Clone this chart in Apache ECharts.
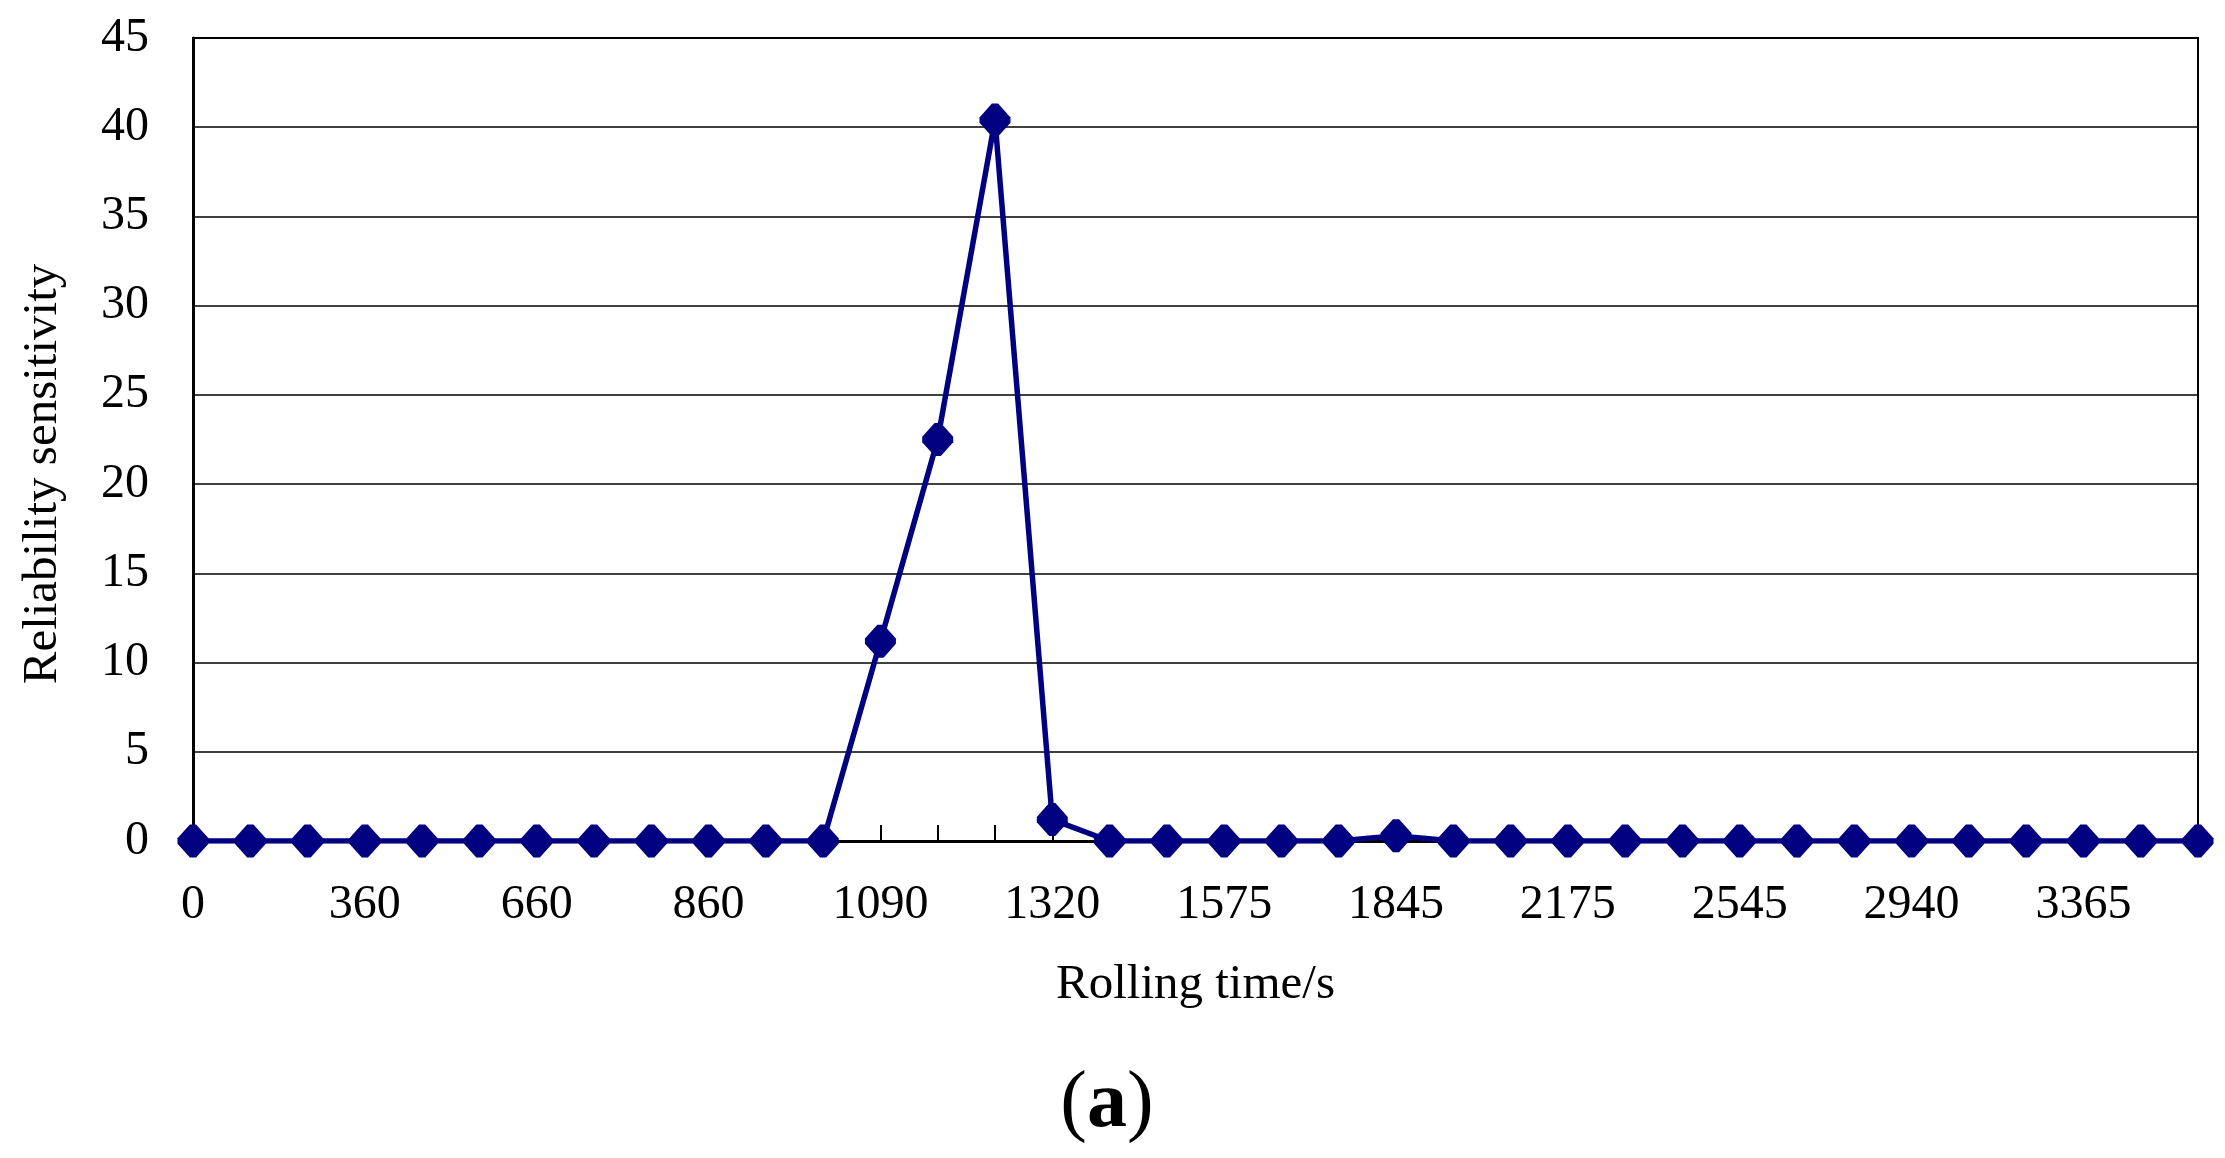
<!DOCTYPE html>
<html>
<head>
<meta charset="utf-8">
<script src="https://cdn.jsdelivr.net/npm/echarts@6/dist/echarts.min.js"></script>
<style>
html,body{margin:0;padding:0;background:#fff;}
#chart{width:2225px;height:1158px;}
</style>
</head>
<body>
<div id="chart"></div>
<script>
// Rolling time categories (every third one is labelled in the reference)
var categories = [0, 120, 240, 360, 460, 560, 660, 730, 800, 860, 940, 1015,
  1090, 1165, 1240, 1320, 1405, 1490, 1575, 1665, 1755, 1845, 1955, 2065,
  2175, 2300, 2420, 2545, 2675, 2805, 2940, 3080, 3220, 3365, 3515, 3665];
// Reliability sensitivity values
var sensitivity = [0, 0, 0, 0, 0, 0, 0, 0, 0, 0, 0, 0,
  11.2, 22.5, 40.4, 1.2, 0, 0, 0, 0, 0, 0.3, 0, 0,
  0, 0, 0, 0, 0, 0, 0, 0, 0, 0, 0, 0];
var yTicks = {min: 0, max: 45, interval: 5};

var serif = '"Liberation Serif","DejaVu Serif",serif';
var chart = echarts.init(document.getElementById('chart'));
chart.setOption({
  animation: false,
  backgroundColor: '#fff',
  grid: {left: 193, right: 27, top: 38, bottom: 317, show: true, borderColor: '#000', borderWidth: 2, backgroundColor: 'transparent'},
  xAxis: {
    type: 'category',
    data: categories.map(String),
    boundaryGap: false,
    name: 'Rolling time/s',
    nameLocation: 'middle',
    nameGap: 120,
    nameTextStyle: {fontFamily: serif, fontSize: 49, color: '#000'},
    axisLine: {lineStyle: {color: '#000', width: 3}},
    axisTick: {show: true, inside: true, interval: 0, length: 16, lineStyle: {color: '#000', width: 2}},
    axisLabel: {interval: 2, fontFamily: serif, fontSize: 48, color: '#000', margin: 40},
    splitLine: {show: false}
  },
  yAxis: {
    type: 'value',
    min: yTicks.min, max: yTicks.max, interval: yTicks.interval,
    axisLine: {show: true, lineStyle: {color: '#000', width: 3}},
    axisTick: {show: false},
    axisLabel: {fontFamily: serif, fontSize: 48, color: '#000', margin: 44},
    splitLine: {show: true, lineStyle: {color: '#000', width: 1.5}}
  },
  series: [{
    type: 'line',
    data: sensitivity,
    symbol: 'path://M40,0 L60,0 L100,42 L100,58 L60,100 L40,100 L0,58 L0,42 Z',
    symbolSize: [31, 33],
    showAllSymbol: true,
    lineStyle: {color: '#000080', width: 5.5},
    itemStyle: {color: '#000080', borderWidth: 0}
  }],
  graphic: [{
    type: 'text',
    x: 43,
    y: 474,
    rotation: Math.PI / 2,
    style: {
      text: 'Reliability sensitivity',
      fontFamily: serif, fontSize: 49, fill: '#000',
      align: 'center', verticalAlign: 'middle'
    }
  }, {
    type: 'text',
    x: 1107,
    y: 1105,
    style: {
      text: '{p|(}{b|a}{p|)}',
      align: 'center', verticalAlign: 'middle',
      rich: {
        p: {fontFamily: serif, fontSize: 80, fill: '#000'},
        b: {fontFamily: serif, fontSize: 80, fontWeight: 'bold', fill: '#000'}
      }
    }
  }]
});
</script>
</body>
</html>
